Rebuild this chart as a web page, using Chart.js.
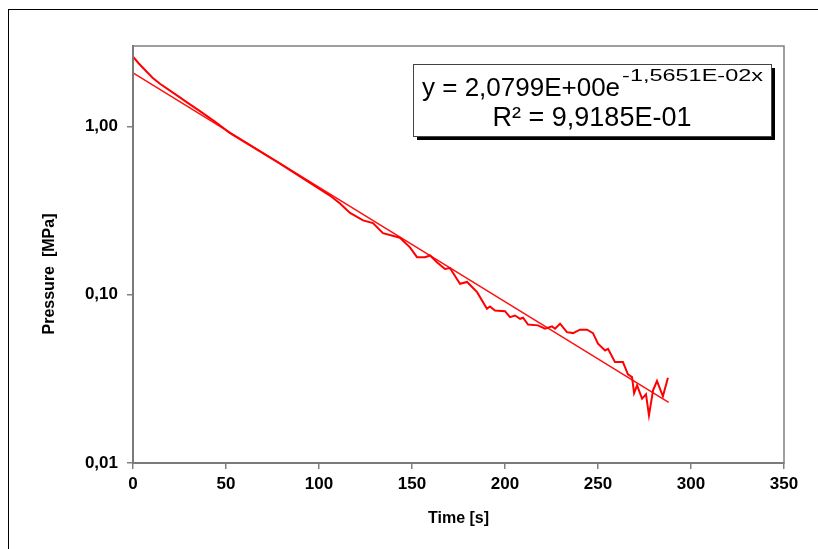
<!DOCTYPE html>
<html>
<head>
<meta charset="UTF-8" />
<title>Pressure decay</title>
<script src="https://cdn.jsdelivr.net/npm/chart.js"></script>
<style>
  html, body { margin: 0; padding: 0; background: #fff; overflow: hidden; }
  .frame {
    position: absolute; left: 8px; top: 9px;
    width: 900px; height: 700px;
    border: 1.5px solid #000;
  }
  #chart { position: absolute; left: 0; top: 0; }
</style>
</head>
<body>
<div class="frame"></div>
<canvas id="chart" width="818" height="549"></canvas>
<script>
const timeSec = [0, 3, 7, 10.5, 14.5, 19.5, 25, 30, 36, 44, 52.2, 79, 92, 105.9, 111.3,
  116.7, 123.7, 129, 134.4, 143.5, 148.9, 152.7, 157, 159.7, 163.4, 167.7, 170.4,
  175.8, 179.6, 185, 190.3, 191.9, 194.6, 200, 202.7, 205.4, 208.1, 209.7, 212.4,
  217.7, 221.5, 225.3, 226.9, 229.6, 233.3, 236.6, 240.3, 244.1, 247.3, 250, 253.8,
  255.4, 259.1, 263.4, 266.1, 268.3, 269.4, 271, 273.7, 275.8, 277.4, 279.6, 281.7,
  284.9, 287.6];
const pressureMPa = [2.59, 2.37, 2.13, 1.945, 1.79, 1.64, 1.49, 1.364, 1.231, 1.066,
  0.912, 0.601, 0.486, 0.388, 0.348, 0.306, 0.276, 0.266, 0.232, 0.218, 0.191, 0.167,
  0.167, 0.171, 0.156, 0.142, 0.144, 0.116, 0.119, 0.1035, 0.0825, 0.0851, 0.0806,
  0.0798, 0.0735, 0.0752, 0.0719, 0.0729, 0.0665, 0.0657, 0.0628, 0.0648, 0.0628,
  0.0672, 0.0599, 0.0591, 0.0619, 0.0619, 0.0591, 0.0511, 0.0466, 0.0477, 0.0398,
  0.0398, 0.0336, 0.0324, 0.026, 0.0289, 0.0241, 0.0256, 0.0192, 0.027, 0.0307,
  0.0249, 0.0321];

// exponential trendline end points
const trendTime = [0, 288];
const trendPressure = [2.0799, 0.0229];

const yTicks = [0.01, 0.1, 1];
const xTitle = "Time [s]";
const yTitle = "Pressure  [MPa]";
const eqMain = "y = 2,0799E+00e";
const eqExp = "-1,5651E-02x";
const eqR2 = "R\u00B2 = 9,9185E-01";

const FONT = '"Liberation Sans", Arial, sans-serif';

const overlay = {
  id: "overlay",
  afterDraw(chart) {
    const { ctx, chartArea: a } = chart;
    ctx.save();
    // plot frame
    ctx.strokeStyle = "#808080";
    ctx.lineWidth = 1.5;
    ctx.strokeRect(a.left, a.top, a.right - a.left, a.bottom - a.top);

    // y axis title
    ctx.fillStyle = "#000";
    ctx.font = "bold 16px " + FONT;
    ctx.textAlign = "center";
    ctx.textBaseline = "middle";
    ctx.translate(50, 274);
    ctx.rotate(-Math.PI / 2);
    ctx.fillText(yTitle, 0, 0);
    ctx.restore();

    // trendline label box
    const bx = 413, by = 64, bw = 358, bh = 72;
    ctx.save();
    ctx.fillStyle = "#000";
    ctx.fillRect(bx + 4, by + 4, bw, bh);
    ctx.fillStyle = "#fff";
    ctx.fillRect(bx, by, bw, bh);
    ctx.strokeStyle = "#444";
    ctx.lineWidth = 1;
    ctx.strokeRect(bx + 0.5, by + 0.5, bw, bh);

    ctx.fillStyle = "#000";
    ctx.textBaseline = "alphabetic";
    ctx.textAlign = "left";
    ctx.font = "26px " + FONT;
    ctx.fillText(eqMain, 422, 96);
    const expX = 422 + ctx.measureText(eqMain).width + 2;
    // exponent is drawn wider than its natural size, as in the source
    ctx.font = "17px " + FONT;
    const expW = ctx.measureText(eqExp).width;
    ctx.save();
    ctx.translate(expX, 81);
    ctx.scale((763 - expX) / expW, 1);
    ctx.fillText(eqExp, 0, 0);
    ctx.restore();

    ctx.font = "27px " + FONT;
    ctx.textAlign = "center";
    ctx.fillText(eqR2, bx + bw / 2, 126);
    ctx.restore();
  }
};

const axisGrid = {
  display: true,
  drawOnChartArea: false,
  drawTicks: true,
  tickLength: 6,
  color: "#808080",
  lineWidth: 1.5
};

new Chart(document.getElementById("chart"), {
  type: "line",
  data: {
    datasets: [
      {
        label: "Pressure",
        data: timeSec.map((t, i) => ({ x: t, y: pressureMPa[i] })),
        borderColor: "#ff0000",
        borderWidth: 2,
        pointRadius: 0,
        tension: 0
      },
      {
        label: "Trend",
        data: trendTime.map((t, i) => ({ x: t, y: trendPressure[i] })),
        borderColor: "#ff1010",
        borderWidth: 1.5,
        pointRadius: 0
      }
    ]
  },
  options: {
    responsive: false,
    animation: false,
    layout: { padding: { left: 0, top: 46, right: 34, bottom: 0 } },
    plugins: {
      legend: { display: false },
      tooltip: { enabled: false }
    },
    scales: {
      x: {
        type: "linear",
        min: 0,
        max: 350,
        afterFit: (s) => { s.height = 86; },
        grid: axisGrid,
        border: { display: true, color: "#6e6e6e", width: 2 },
        ticks: {
          stepSize: 50,
          padding: 5,
          color: "#000",
          font: { family: FONT, size: 17, weight: "bold" }
        },
        title: {
          display: true,
          text: xTitle,
          color: "#000",
          font: { family: FONT, size: 16, weight: "bold" },
          padding: { top: 0, bottom: 21 }
        }
      },
      y: {
        type: "logarithmic",
        min: 0.01,
        max: 3,
        afterFit: (s) => { s.width = 133; },
        afterBuildTicks: (s) => { s.ticks = yTicks.map((v) => ({ value: v })); },
        grid: axisGrid,
        border: { display: true, color: "#6e6e6e", width: 2 },
        ticks: {
          padding: 9,
          color: "#000",
          font: { family: FONT, size: 17, weight: "bold" },
          callback: (v) => v.toFixed(2).replace(".", ",")
        }
      }
    }
  },
  plugins: [overlay]
});
</script>
</body>
</html>
